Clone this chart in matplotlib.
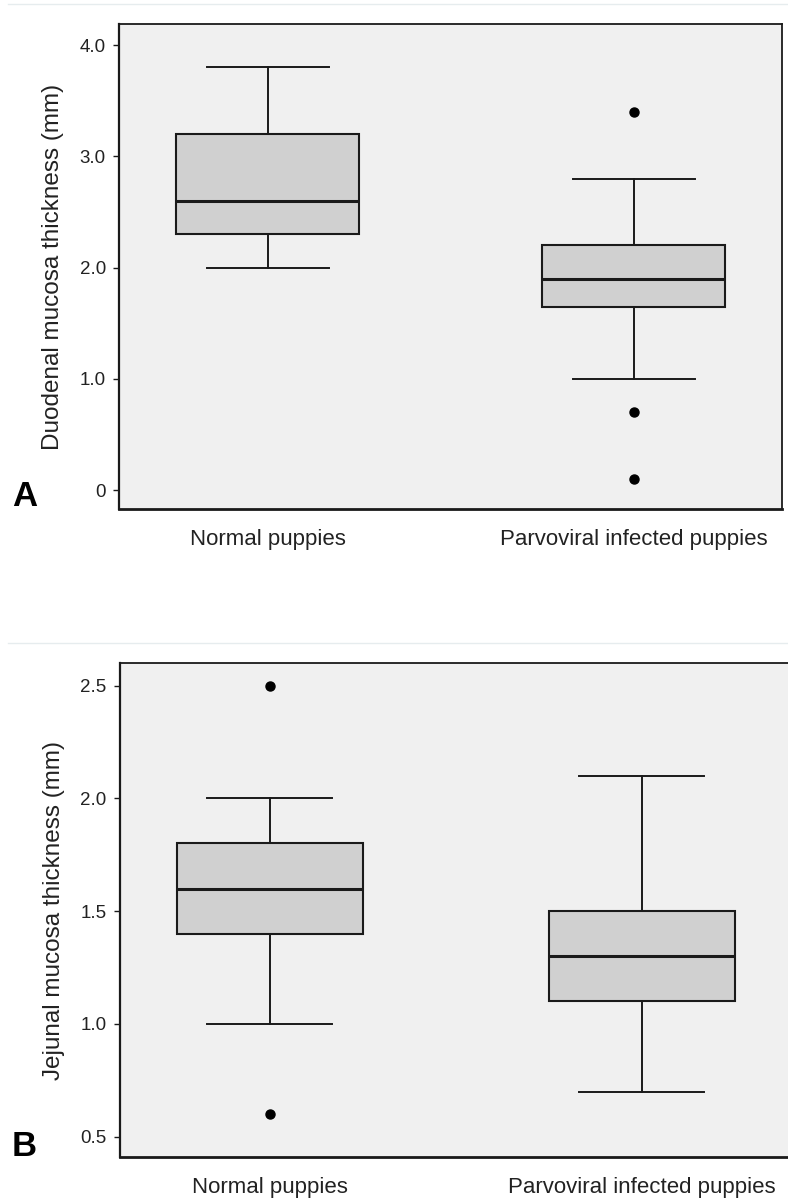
import matplotlib
matplotlib.use('Agg')
import matplotlib.pyplot as plt
from matplotlib.lines import Line2D

plt.rcParams['font.family'] = ['Liberation Sans', 'DejaVu Sans']

# group names
groups = ['Normal puppies', 'Parvoviral infected puppies']

# A: duodenal mucosa thickness (mm)
duo_lo = [2.0, 1.0]
duo_q1 = [2.3, 1.65]
duo_med = [2.6, 1.9]
duo_q3 = [3.2, 2.2]
duo_hi = [3.8, 2.8]
duo_fliers = [[], [3.4, 0.7, 0.1]]
duo_ticks = [0, 1.0, 2.0, 3.0, 4.0]
duo_ticklabels = ['0', '1.0', '2.0', '3.0', '4.0']

# B: jejunal mucosa thickness (mm)
jej_lo = [1.0, 0.7]
jej_q1 = [1.4, 1.1]
jej_med = [1.6, 1.3]
jej_q3 = [1.8, 1.5]
jej_hi = [2.0, 2.1]
jej_fliers = [[2.5, 0.6], []]
jej_ticks = [0.5, 1.0, 1.5, 2.0, 2.5]
jej_ticklabels = ['0.5', '1.0', '1.5', '2.0', '2.5']

LINE = '#1a1a1a'


def make_stats(lo, q1, med, q3, hi, fliers):
    stats = []
    for i in range(len(groups)):
        stats.append({'whislo': lo[i], 'q1': q1[i], 'med': med[i], 'q3': q3[i],
                      'whishi': hi[i], 'fliers': fliers[i], 'label': groups[i]})
    return stats


def draw_panel(ax, stats, ticks, ticklabels, ylim, xlim, ylabel, letter, letter_xy):
    ax.set_facecolor('#f0f0f0')
    ax.bxp(stats, positions=[1, 2], widths=0.5, capwidths=0.335, patch_artist=True,
           boxprops=dict(facecolor='#d0d0d0', edgecolor=LINE, linewidth=1.5),
           medianprops=dict(color=LINE, linewidth=2.2),
           whiskerprops=dict(color=LINE, linewidth=1.4),
           capprops=dict(color=LINE, linewidth=1.4),
           flierprops=dict(marker='o', markersize=6.5, markerfacecolor='black',
                           markeredgecolor='black'))
    ax.set_xlim(*xlim)
    ax.set_ylim(*ylim)
    ax.set_yticks(ticks)
    ax.set_yticklabels(ticklabels, fontsize=13.5, color='#222222')
    ax.tick_params(axis='y', direction='out', length=4.5, width=1, color=LINE, pad=5)
    ax.tick_params(axis='x', length=0, pad=14.5, labelsize=16, labelcolor='#222222')
    ax.set_ylabel(ylabel, fontsize=17.5, color='#222222', labelpad=11)
    for s in ax.spines.values():
        s.set_color(LINE)
        s.set_linewidth(1.3)
    ax.spines['left'].set_linewidth(1.6)
    ax.spines['bottom'].set_linewidth(2)
    fig.text(letter_xy[0], letter_xy[1], letter, fontsize=25, fontweight='bold',
             color='black')


fig = plt.figure(figsize=(7.88, 11.99), dpi=100)

axA = fig.add_axes([0.151, 0.5755, 0.841, 0.4045])
draw_panel(axA, make_stats(duo_lo, duo_q1, duo_med, duo_q3, duo_hi, duo_fliers),
           duo_ticks, duo_ticklabels, (-0.17, 4.19), (0.593, 2.404),
           'Duodenal mucosa thickness (mm)', 'A', (0.016, 0.578))

axB = fig.add_axes([0.152, 0.035, 0.863, 0.412])
draw_panel(axB, make_stats(jej_lo, jej_q1, jej_med, jej_q3, jej_hi, jej_fliers),
           jej_ticks, jej_ticklabels, (0.41, 2.60), (0.597, 2.425),
           'Jejunal mucosa thickness (mm)', 'B', (0.015, 0.036))

# faint separators between the two panels
for yy in [1 - 4 / 1199, 1 - 643 / 1199]:
    fig.add_artist(Line2D([0.01, 1.0], [yy, yy], color='#e6ecee', linewidth=1))

fig.savefig('out.png', dpi=100)
plt.close()
